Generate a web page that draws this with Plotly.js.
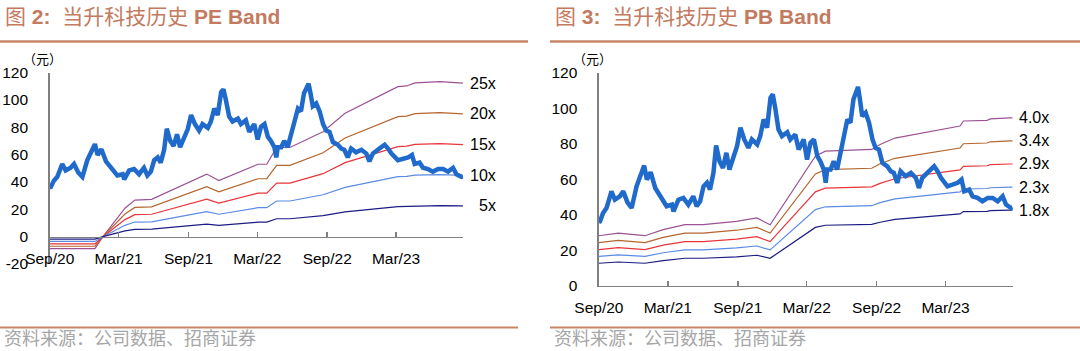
<!DOCTYPE html>
<html>
<head>
<meta charset="utf-8">
<script src="https://cdn.plot.ly/plotly-3.0.1.min.js"></script>
<style>
html,body{margin:0;padding:0;background:#fff;}
#chart{width:1080px;height:351px;}
</style>
</head>
<body>
<div id="chart"></div>
<script>
// ---------------- DATA ----------------
const priceDates = ['2020-09-01','2020-09-04','2020-09-12','2020-09-21','2020-10-04','2020-10-13','2020-10-26','2020-11-04','2020-11-15','2020-11-26','2020-12-09','2020-12-23','2020-12-29',
'2021-01-05','2021-01-15','2021-01-27','2021-02-09','2021-02-26','2021-03-12','2021-03-16','2021-03-29','2021-04-11','2021-04-24','2021-05-07','2021-05-16','2021-05-25','2021-06-03','2021-06-12','2021-06-20','2021-06-29','2021-07-06','2021-07-15','2021-07-24','2021-08-02','2021-08-10','2021-08-21','2021-08-30','2021-09-08','2021-09-18','2021-09-29','2021-10-08','2021-10-22','2021-10-30','2021-11-08','2021-11-17','2021-11-26','2021-12-02','2021-12-09','2021-12-17','2021-12-26',
'2022-01-09','2022-01-17','2022-01-30','2022-02-08','2022-02-21','2022-03-02','2022-03-11','2022-03-20','2022-03-29','2022-04-06','2022-04-15','2022-04-20','2022-04-24','2022-05-03','2022-05-11','2022-05-20','2022-05-29','2022-06-07','2022-06-16','2022-06-24','2022-07-02','2022-07-08','2022-07-14','2022-07-19','2022-07-25','2022-08-03','2022-08-12','2022-08-21','2022-08-29','2022-09-07','2022-09-16','2022-09-29','2022-10-08','2022-10-16','2022-10-25','2022-11-03','2022-11-16','2022-11-30','2022-12-13','2022-12-21','2022-12-30',
'2023-01-12','2023-01-30','2023-02-08','2023-02-17','2023-03-06','2023-03-19','2023-04-02','2023-04-12','2023-04-19','2023-05-02','2023-05-11','2023-05-24','2023-06-06','2023-06-20','2023-07-03','2023-07-16','2023-07-29','2023-08-07','2023-08-20','2023-08-24'];
const priceValues = [36.0,36.3,41.0,43.8,53.2,48.5,50.4,53.2,47.0,43.8,56.0,63.6,67.7,
59.8,64.0,55.1,50.4,44.8,45.7,41.9,48.5,49.5,45.7,50.4,44.8,47.6,56.0,58.0,54.2,63.6,79.0,70.1,66.4,74.9,65.5,73.9,78.6,89.0,82.4,77.7,82.4,79.6,84.3,93.7,89.0,105.9,107.8,99.3,88.0,84.3,
86.5,82.4,85.2,76.7,82.4,71.1,80.5,82.4,73.0,70.1,65.5,58.0,65.5,65.5,70.1,65.5,76.7,84.3,93.7,91.8,105.0,108.7,112.0,105.0,95.5,97.5,91.8,82.4,77.7,76.7,69.2,67.3,64.5,63.6,58.0,64.5,61.7,63.6,60.8,55.1,60.8,
63.6,67.3,64.5,60.8,56.0,57.0,58.0,59.8,53.2,54.2,50.4,49.5,47.6,49.5,49.5,47.6,50.4,45.7,43.8,44.2];

// PE band (price = EPS x multiple)
const peDates = ['2020-09-01','2020-12-29','2021-01-19','2021-03-18','2021-04-13','2021-05-27','2021-10-19','2021-11-20','2022-03-03','2022-03-26','2022-04-21','2022-05-26','2022-08-21','2022-10-18','2023-03-06','2023-03-29','2023-04-20','2023-06-25','2023-08-24'];
const pe25 = [-8.8,-8.8,0,20.8,26.8,27.3,45.8,41.0,53.0,53.0,65.3,65.3,76.8,90.3,109.8,110.3,112.5,113.5,112.3];
const pe20 = [-7.0,-7.0,0,16.6,21.4,21.8,36.6,32.8,42.4,42.4,52.2,52.2,61.4,72.2,87.8,88.2,90.0,90.8,89.8];
const pe15 = [-5.3,-5.3,0,12.5,16.1,16.4,27.5,24.6,31.8,31.8,39.2,39.2,46.1,54.2,65.9,66.2,67.5,68.1,67.4];
const pe10 = [-3.5,-3.5,0,8.3,10.7,10.9,18.3,16.4,21.2,21.2,26.1,26.1,30.7,36.1,43.9,44.1,45.0,45.4,44.9];
const pe5  = [-1.8,-1.8,0,4.2,5.4,5.5,9.2,8.2,10.6,10.6,13.1,13.1,15.4,18.1,22.0,22.1,22.5,22.7,22.5];
const peLabels = ['25x','20x','15x','10x','5x'];

// PB band (price = BVPS x multiple)
const pbDates = ['2020-09-01','2020-10-22','2020-12-31','2021-02-17','2021-04-15','2021-06-02','2021-08-29','2021-10-21','2021-11-25','2022-03-24','2022-04-19','2022-08-19','2022-09-10','2022-10-19','2023-04-08','2023-04-17','2023-06-18','2023-06-27','2023-08-17','2023-08-24'];
const pb40  = [28.2,29.7,28.2,31.6,34.4,34.4,36.3,38.2,34.4,73.0,75.8,76.8,79.6,83.2,90.0,92.8,93.2,94.0,94.6,94.6];
const pb345 = [24.3,25.6,24.3,27.3,29.7,29.7,31.3,32.9,29.7,63.0,65.4,66.2,68.7,71.8,77.6,80.0,80.4,81.1,81.6,81.6];
const pb29  = [20.4,21.5,20.4,22.9,24.9,24.9,26.3,27.7,24.9,52.9,55.0,55.7,57.7,60.3,65.3,67.3,67.6,68.2,68.6,68.6];
const pb235 = [16.6,17.4,16.6,18.6,20.2,20.2,21.3,22.4,20.2,42.9,44.5,45.1,46.8,48.9,52.9,54.5,54.8,55.2,55.6,55.6];
const pb18  = [12.7,13.4,12.7,14.2,15.5,15.5,16.3,17.2,15.5,32.9,34.1,34.6,35.8,37.4,40.5,41.8,41.9,42.3,42.6,42.6];
const pbLabels = ['4.0x','3.4x','2.9x','2.3x','1.8x'];

const leftYTicks = [-20,0,20,40,60,80,100,120];
const leftYText = ['-20','0','20','40','60','80','100','120'];
const rightYTicks = [0,20,40,60,80,100,120];
const xRange = ['2020-09-01','2023-08-25'];

const titleLeft = '图 <b>2:</b>\u00a0\u00a0当升科技历史 <b>PE Band</b>';
const titleRight = '图 <b>3:</b>\u00a0\u00a0当升科技历史 <b>PB Band</b>';
const sourceText = '资料来源：公司数据、招商证券';
const unitText = '（元）';

// ---------------- STYLE ----------------
const bandColors = ['#9b5394','#b5652e','#e8353a','#5b8be3','#1c1c84'];
const priceColor = '#1f6acb';
const axisColor = '#808080';
const latin = 'Liberation Sans, Arial, sans-serif';
const cjk = 'Noto Sans CJK SC, sans-serif';
const brown = '#c47a5e';

const peBands = [pe25, pe20, pe15, pe10, pe5];
const pbBands = [pb40, pb345, pb29, pb235, pb18];

const traces = [];
peBands.forEach((b,i)=>traces.push({x:peDates,y:b,xaxis:'x',yaxis:'y',type:'scatter',mode:'lines',line:{color:bandColors[i],width:1.2},hoverinfo:'skip'}));
traces.push({x:priceDates,y:priceValues,xaxis:'x',yaxis:'y',type:'scatter',mode:'lines',line:{color:priceColor,width:4.5},hoverinfo:'skip'});
pbBands.forEach((b,i)=>traces.push({x:pbDates,y:b,xaxis:'x2',yaxis:'y2',type:'scatter',mode:'lines',line:{color:bandColors[i],width:1.2},hoverinfo:'skip'}));
traces.push({x:priceDates,y:priceValues,xaxis:'x2',yaxis:'y2',type:'scatter',mode:'lines',line:{color:priceColor,width:4.5},hoverinfo:'skip'});

const annotations = [];
peBands.forEach((b,i)=>annotations.push({x:peDates[peDates.length-1],y:b[b.length-1],xref:'x',yref:'y',text:peLabels[i],showarrow:false,xanchor:'right',yanchor:'middle',xshift:35,font:{family:latin,size:16,color:'#000'}}));
pbBands.forEach((b,i)=>annotations.push({x:pbDates[pbDates.length-1],y:b[b.length-1],xref:'x2',yref:'y2',text:pbLabels[i],showarrow:false,xanchor:'left',yanchor:'middle',xshift:4,font:{family:latin,size:16,color:'#000'}}));
const P = (px)=>px/1080, Q = (py)=>(351-py)/351;
annotations.push({x:P(3),y:Q(17),xref:'paper',yref:'paper',text:titleLeft,showarrow:false,xanchor:'left',yanchor:'middle',font:{family:latin+', '+cjk,size:21,color:brown}});
annotations.push({x:P(553),y:Q(17),xref:'paper',yref:'paper',text:titleRight,showarrow:false,xanchor:'left',yanchor:'middle',font:{family:latin+', '+cjk,size:21,color:brown}});
annotations.push({x:P(3),y:0,xref:'paper',yref:'paper',text:sourceText,showarrow:false,xanchor:'left',yanchor:'bottom',borderpad:0,font:{family:cjk,size:18,color:'#a6a6a6'}});
annotations.push({x:P(553),y:0,xref:'paper',yref:'paper',text:sourceText,showarrow:false,xanchor:'left',yanchor:'bottom',borderpad:0,font:{family:cjk,size:18,color:'#a6a6a6'}});
annotations.push({x:P(42),y:Q(58),xref:'paper',yref:'paper',text:unitText,showarrow:false,xanchor:'center',yanchor:'middle',font:{family:cjk,size:13,color:'#000'}});
annotations.push({x:P(592),y:Q(58),xref:'paper',yref:'paper',text:unitText,showarrow:false,xanchor:'center',yanchor:'middle',font:{family:cjk,size:13,color:'#000'}});

const ruleColor = '#c98568';
const shapes = [
 {type:'line',xref:'paper',yref:'paper',x0:0,x1:P(528),y0:Q(41.5),y1:Q(41.5),line:{color:ruleColor,width:2.5}},
 {type:'line',xref:'paper',yref:'paper',x0:P(550),x1:1,y0:Q(41.5),y1:Q(41.5),line:{color:ruleColor,width:2.5}},
 {type:'line',xref:'paper',yref:'paper',x0:0,x1:P(518),y0:Q(327.5),y1:Q(327.5),line:{color:ruleColor,width:2}},
 {type:'line',xref:'paper',yref:'paper',x0:P(550),x1:1,y0:Q(327.5),y1:Q(327.5),line:{color:ruleColor,width:2}}
];

const tickFont = {family:latin,size:15.5,color:'#000'};
const xCommon = {type:'date',range:xRange,showline:true,linecolor:axisColor,linewidth:1.5,ticks:'inside',ticklen:5,tickwidth:1.5,tickcolor:axisColor,tick0:'2020-09-01',dtick:'M6',tickformat:'%b/%y',showgrid:false,zeroline:false,tickfont:tickFont,ticklabelstandoff:7};
const yCommon = {showline:true,linecolor:axisColor,linewidth:1.5,ticks:'',showgrid:false,zeroline:false,tickfont:tickFont,ticklabelstandoff:17};

const layout = {
 width:1080,height:351,margin:{l:0,r:0,t:0,b:0},paper_bgcolor:'#fff',plot_bgcolor:'rgba(0,0,0,0)',showlegend:false,
 xaxis:Object.assign({},xCommon,{domain:[P(49.7),P(463.3)],anchor:'free',position:Q(236.7)}),
 yaxis:Object.assign({},yCommon,{domain:[Q(264),Q(72.7)],range:[-20,120],anchor:'x',tickvals:leftYTicks,ticktext:leftYText}),
 xaxis2:Object.assign({},xCommon,{domain:[P(598.9),P(1012.9)],anchor:'y2'}),
 yaxis2:Object.assign({},yCommon,{domain:[Q(285.8),Q(72.7)],range:[0,120],anchor:'x2',tickvals:rightYTicks}),
 annotations:annotations,shapes:shapes
};
Plotly.newPlot('chart',traces,layout,{staticPlot:true,displayModeBar:false});
</script>
</body>
</html>
